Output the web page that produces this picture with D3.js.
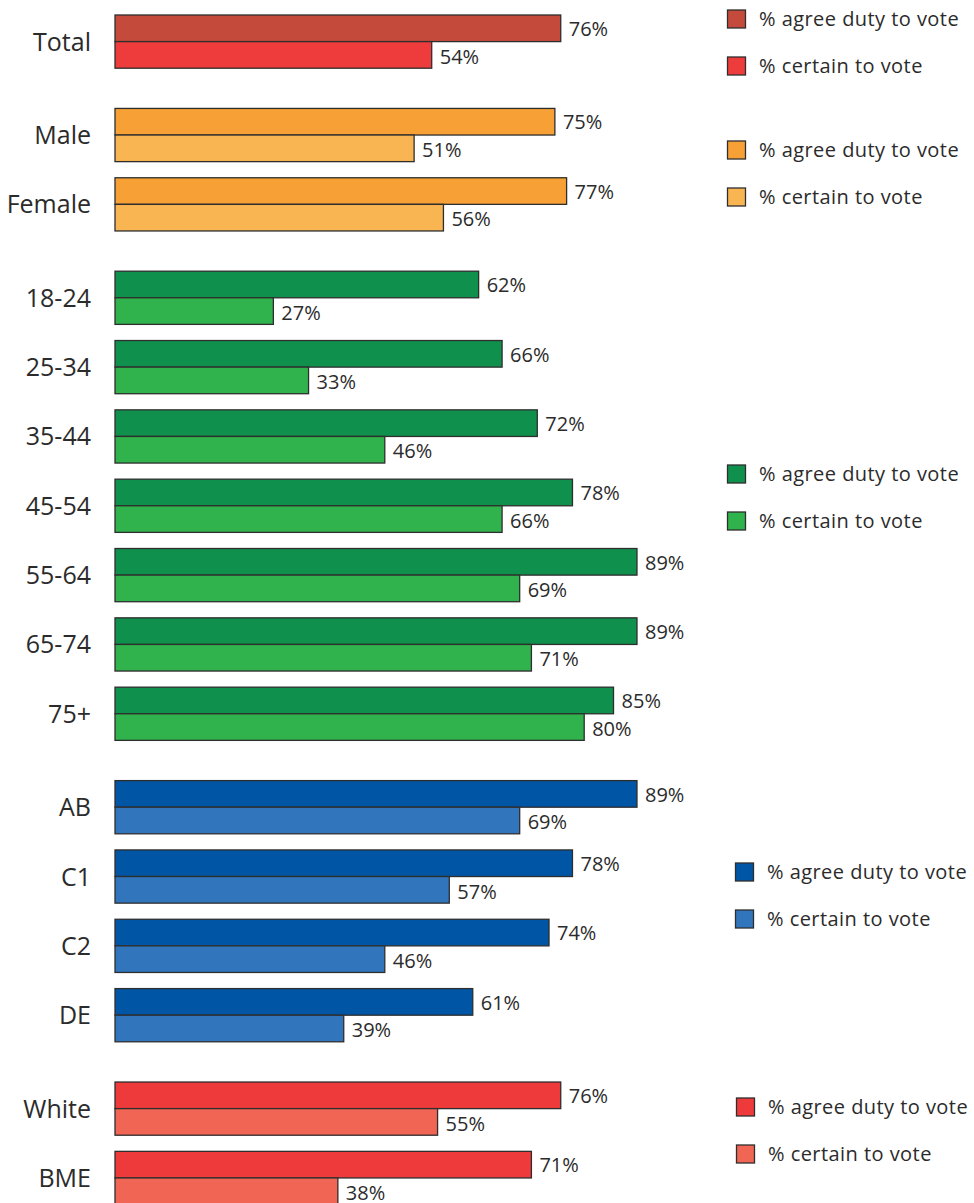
<!DOCTYPE html>
<html><head><meta charset="utf-8">
<script src="https://cdn.jsdelivr.net/npm/d3@7"></script>
<style>body{margin:0;background:#fff}svg{display:block}</style>
</head><body>
<svg id="c" width="974" height="1203"></svg>
<script>
const categories = ["Total","Male","Female","18-24","25-34","35-44","45-54","55-64","65-74","75+","AB","C1","C2","DE","White","BME"];
const groupOf    = [0,1,1,2,2,2,2,2,2,2,3,3,3,3,4,4];
const agreeDuty  = [76,75,77,62,66,72,78,89,89,85,89,78,74,61,76,71];
const certain    = [54,51,56,27,33,46,66,69,71,80,69,57,46,39,55,38];
const seriesNames = ["% agree duty to vote","% certain to vote"];

// style / layout
const colors = [
  ["#c44b3c","#ee3b3b"],
  ["#f6a035","#f9b552"],
  ["#0f904c","#30b34c"],
  ["#0055a5","#3176bd"],
  ["#ee3a3a","#f06553"]
];
const legendPos = [[727,19],[727,150],[727,474],[735,872],[736,1107]];

const svg = d3.select("#c");
const FONT = "'Open Sans', Lato, sans-serif";
const TXT = "#2b2b2b";
const x = d3.scaleLinear().domain([0,100]).range([115,701.5]);
const step = 69.33, gap = 24.1, top0 = 15;
const yRow = d3.scaleLinear().domain([0,1]).range([top0, top0+step]);
const rowTop = i => yRow(i) + groupOf[i]*gap;
const barH = 26.6;
const sub = d3.scaleBand().domain([0,1]).range([0, barH*2]).padding(0);

const rows = categories.map((c,i)=>({c,i,g:groupOf[i],vals:[agreeDuty[i],certain[i]]}));

const rowG = svg.selectAll("g.row").data(rows).join("g")
  .attr("class","row")
  .attr("transform",d=>`translate(0,${rowTop(d.i)})`);

rowG.append("text")
  .attr("x",91).attr("y",barH+9)
  .attr("text-anchor","end")
  .attr("font-family",FONT).attr("font-size",25).attr("fill",TXT)
  .text(d=>d.c);

rowG.selectAll("rect").data(d=>d.vals.map((v,k)=>({v,k,g:d.g}))).join("rect")
  .attr("x",x(0)).attr("y",d=>sub(d.k))
  .attr("width",d=>x(d.v)-x(0)).attr("height",sub.bandwidth())
  .attr("fill",d=>colors[d.g][d.k])
  .attr("stroke","#2e2e2e").attr("stroke-width",1.3);

rowG.selectAll("text.val").data(d=>d.vals.map((v,k)=>({v,k}))).join("text")
  .attr("class","val")
  .attr("x",d=>x(d.v)+8).attr("y",d=>sub(d.k)+(d.k===0?21:22))
  .attr("font-family",FONT).attr("font-size",20).attr("fill",TXT)
  .text(d=>d.v+"%");

// legends
const lg = svg.selectAll("g.leg").data(colors).join("g").attr("class","leg")
  .attr("transform",(d,i)=>`translate(${legendPos[i][0]},${legendPos[i][1]})`);
lg.selectAll("g").data(d=>d.map((col,k)=>({col,k}))).join("g")
  .attr("transform",d=>`translate(0,${d.k*47})`)
  .each(function(d){
    const s = d3.select(this);
    s.append("rect").attr("x",0.5).attr("y",-9).attr("width",18).attr("height",18)
      .attr("fill",d.col).attr("stroke","#2e2e2e").attr("stroke-width",1.3);
    s.append("text").attr("x",32).attr("y",7)
      .attr("font-family",FONT).attr("font-size",20).attr("letter-spacing",0.45).attr("fill",TXT)
      .text(seriesNames[d.k]);
  });
</script>
</body></html>
